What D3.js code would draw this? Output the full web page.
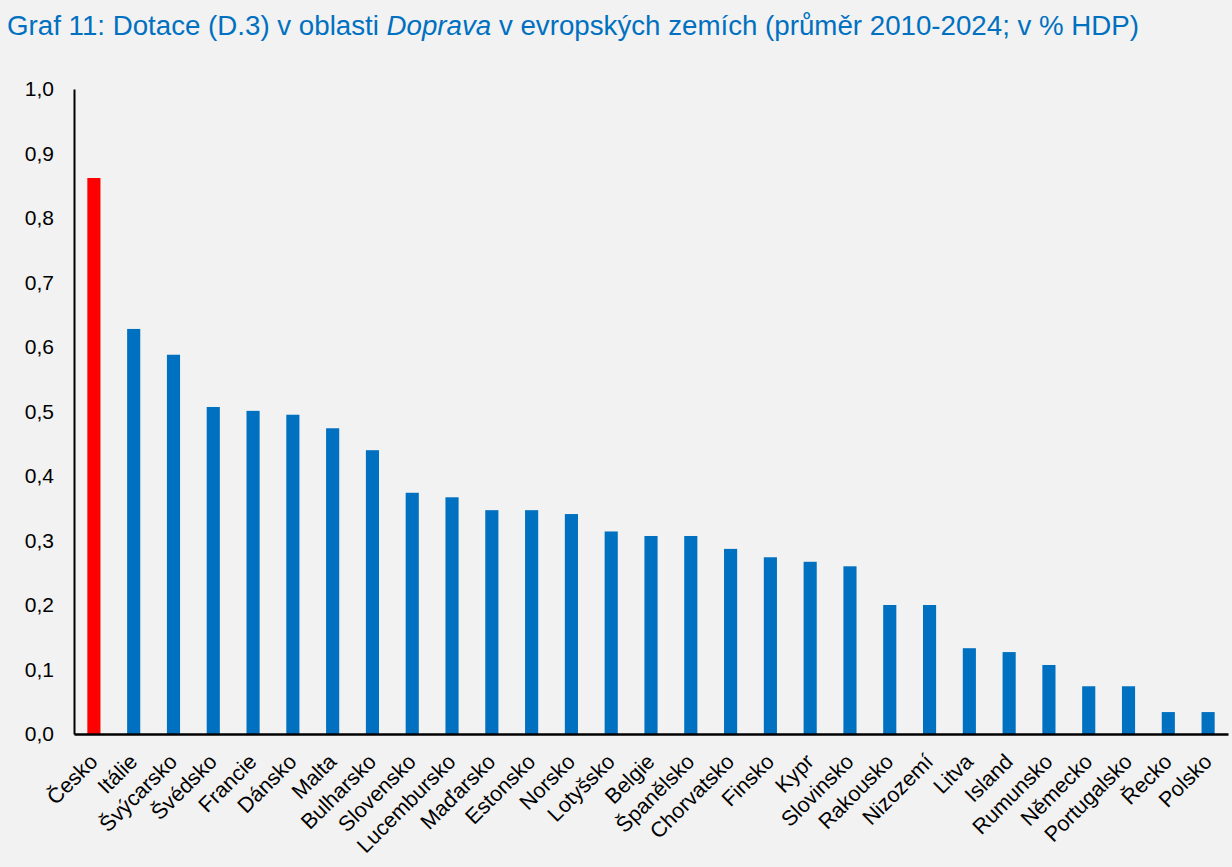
<!DOCTYPE html>
<html>
<head>
<meta charset="utf-8">
<script src="https://cdn.jsdelivr.net/npm/d3@7"></script>
<style>
  html, body { margin: 0; padding: 0; background: #F2F2F2; }
  svg { display: block; font-family: "Liberation Sans", Arial, sans-serif; }
</style>
</head>
<body>
<svg id="chart" width="1232" height="867"></svg>
<script>
const categories = ["Česko","Itálie","Švýcarsko","Švédsko","Francie","Dánsko","Malta","Bulharsko","Slovensko","Lucembursko","Maďarsko","Estonsko","Norsko","Lotyšsko","Belgie","Španělsko","Chorvatsko","Finsko","Kypr","Slovinsko","Rakousko","Nizozemí","Litva","Island","Rumunsko","Německo","Portugalsko","Řecko","Polsko"];
const values = [0.862,0.628,0.588,0.507,0.501,0.495,0.474,0.440,0.374,0.367,0.347,0.347,0.341,0.314,0.307,0.307,0.287,0.274,0.267,0.260,0.200,0.200,0.133,0.127,0.107,0.074,0.074,0.034,0.034];
const highlight = ["Česko"];
const yTicks = [0,0.1,0.2,0.3,0.4,0.5,0.6,0.7,0.8,0.9,1.0];
const titleText = "Graf 11: Dotace (D.3) v oblasti ";
const titleItalic = "Doprava";
const titleRest = " v evropských zemích (průměr 2010-2024; v % HDP)";

const svg = d3.select("#chart");
const margin = {left: 74, right: 4, top: 89, bottom: 133};
const W = 1232, H = 867;

const x = d3.scaleBand().domain(categories).range([margin.left, W - margin.right]).paddingInner(0.67).paddingOuter(0.335);
const y = d3.scaleLinear().domain([0, 1]).range([H - margin.bottom, margin.top]);

// title
const t = svg.append("text").attr("x", 7).attr("y", 35).attr("fill", "#0070C0").attr("font-size", 27.7);
t.append("tspan").text(titleText);
t.append("tspan").attr("font-style", "italic").text(titleItalic);
t.append("tspan").text(titleRest);

// bars
svg.append("g").selectAll("rect").data(categories).join("rect")
  .attr("x", d => x(d))
  .attr("width", x.bandwidth())
  .attr("y", (d, i) => y(values[i]))
  .attr("height", (d, i) => y(0) - y(values[i]))
  .attr("fill", d => highlight.includes(d) ? "#FF0000" : "#0070C0");

// y axis
const yAxis = d3.axisLeft(y).tickValues(yTicks).tickSize(0).tickPadding(20)
  .tickFormat(d => d3.format(".1f")(d).replace(".", ","));
const gy = svg.append("g").attr("transform", `translate(${margin.left},0)`).call(yAxis);
gy.select(".domain").attr("stroke", "#000").attr("stroke-width", 2);
gy.selectAll("text").attr("font-size", 21).attr("fill", "#000").attr("font-family", "Liberation Sans, Arial, sans-serif");

// x axis
const xAxis = d3.axisBottom(x).tickSize(0).tickPadding(0);
const gx = svg.append("g").attr("transform", `translate(0,${y(0)})`).call(xAxis);
gx.select(".domain").attr("stroke", "#000").attr("stroke-width", 2.6);
gx.selectAll("text")
  .attr("font-size", 21.5).attr("fill", "#000").attr("font-family", "Liberation Sans, Arial, sans-serif")
  .attr("text-anchor", "end")
  .attr("dy", "0")
  .attr("y", 0)
  .attr("transform", "translate(5,29) rotate(-45)");
</script>
</body>
</html>
